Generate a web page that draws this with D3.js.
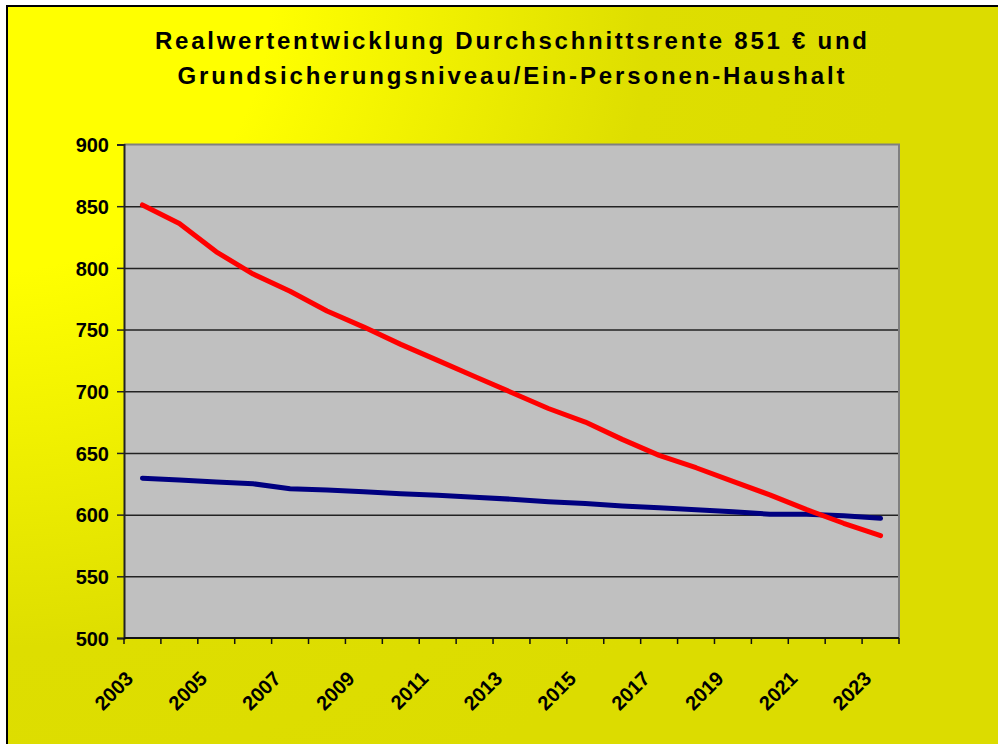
<!DOCTYPE html>
<html>
<head>
<meta charset="utf-8">
<script src="https://cdn.jsdelivr.net/npm/d3@7"></script>
<style>
  html, body { margin: 0; padding: 0; background: #ffffff; }
  svg { display: block; }
  text { font-family: "Liberation Sans", Arial, sans-serif; font-weight: bold; }
</style>
</head>
<body>
<svg id="chart" width="998" height="744"></svg>
<script>
// chart data
var years = ["2003","2004","2005","2006","2007","2008","2009","2010","2011","2012","2013",
             "2014","2015","2016","2017","2018","2019","2020","2021","2022","2023"];
var rente = [851, 836, 813, 795, 781, 765, 752, 738, 725, 712, 699,
             686, 675, 661, 648, 638, 627, 616, 604, 593, 583];
var grundsicherung = [629.5, 628, 626.5, 625, 621, 620, 618.5, 617, 615.7, 614, 612.5,
                      610.5, 609, 607, 605.5, 604, 602.3, 600.4, 600.4, 599, 597];
var yTicks = [500, 550, 600, 650, 700, 750, 800, 850, 900];
var xLabels = ["2003","2005","2007","2009","2011","2013","2015","2017","2019","2021","2023"];
var titleLines = ["Realwertentwicklung Durchschnittsrente 851 \u20ac und",
                  "Grundsicherungsniveau/Ein-Personen-Haushalt"];

var svg = d3.select("#chart");

// plot area (not named top/left: window.top is read-only)
var plotL = 124, plotR = 899, plotT = 144.5, plotB = 638;

// background: yellow, getting darker away from the top-left corner
var defs = svg.append("defs");
var grad = defs.append("radialGradient")
    .attr("id", "bg")
    .attr("gradientUnits", "userSpaceOnUse")
    .attr("cx", 0).attr("cy", 0).attr("r", 900);
grad.append("stop").attr("offset", 0.3).attr("stop-color", "#ffff00");
grad.append("stop").attr("offset", 0.72).attr("stop-color", "#dede00");
grad.append("stop").attr("offset", 1).attr("stop-color", "#dcdc00");

svg.append("rect")
    .attr("x", 7).attr("y", 6)
    .attr("width", 1000).attr("height", 750)
    .attr("fill", "url(#bg)")
    .attr("stroke", "#000").attr("stroke-width", 2);

// title
svg.append("g").selectAll("text")
    .data(titleLines)
    .enter()
    .append("text")
    .attr("x", 511)
    .attr("y", function(d, i) { return 49 + i * 35; })
    .attr("text-anchor", "middle")
    .attr("font-size", 24)
    .attr("textLength", function(d, i) { return i == 0 ? 712 : 667; })
    .attr("lengthAdjust", "spacing")
    .attr("fill", "#000")
    .text(function(d) { return d; });

// scales
var x = d3.scaleBand().domain(years).range([plotL, plotR]).padding(0);
var y = d3.scaleLinear().domain([500, 900]).range([plotB, plotT]);
var cx = function(d, i) { return x(years[i]) + x.bandwidth() / 2; };

svg.append("rect")
    .attr("x", plotL).attr("y", plotT)
    .attr("width", plotR - plotL).attr("height", plotB - plotT)
    .attr("fill", "#c0c0c0");

// grid lines
var grid = svg.append("g")
    .attr("transform", "translate(" + plotL + ",0)")
    .call(d3.axisLeft(y).tickValues(yTicks.slice(1, -1)).tickSize(-(plotR - plotL)).tickFormat(""));
grid.select(".domain").remove();
grid.selectAll("line").attr("stroke", "#222").attr("stroke-width", 1.5);

// plot border top / right
svg.append("path")
    .attr("d", "M" + plotL + "," + plotT + "H" + plotR + "V" + plotB)
    .attr("fill", "none")
    .attr("stroke", "#808080").attr("stroke-width", 2);

// y axis
var yAxis = svg.append("g")
    .attr("transform", "translate(" + plotL + ",0)")
    .call(d3.axisLeft(y).tickValues(yTicks).tickSize(7).tickPadding(8));
yAxis.select(".domain").attr("stroke", "#222").attr("stroke-width", 2);
yAxis.selectAll("line").attr("stroke", "#222").attr("stroke-width", 1.5);
yAxis.selectAll("text")
    .attr("font-size", 20)
    .attr("font-family", "Liberation Sans, Arial, sans-serif")
    .attr("font-weight", "bold")
    .attr("fill", "#000")
    .attr("dy", "0.36em");

// x axis: ticks between categories
var xAxis = svg.append("g");
xAxis.append("line")
    .attr("x1", plotL).attr("x2", plotR)
    .attr("y1", plotB).attr("y2", plotB)
    .attr("stroke", "#111").attr("stroke-width", 2);
xAxis.selectAll(".xtick")
    .data(years.concat(["end"]))
    .enter()
    .append("line")
    .attr("class", "xtick")
    .attr("x1", function(d) { return d == "end" ? plotR : x(d); })
    .attr("x2", function(d) { return d == "end" ? plotR : x(d); })
    .attr("y1", plotB).attr("y2", plotB + 6)
    .attr("stroke", "#111").attr("stroke-width", 1.5);
xAxis.selectAll(".xlabel")
    .data(xLabels)
    .enter()
    .append("text")
    .attr("class", "xlabel")
    .attr("text-anchor", "end")
    .attr("font-size", 20)
    .attr("transform", function(d) {
        return "translate(" + (x(d) + x.bandwidth() / 2 - 8) + "," + (plotB + 42) + ") rotate(-45)";
    })
    .text(function(d) { return d; });

// series lines
var line = d3.line()
    .x(cx)
    .y(function(d) { return y(d); });

svg.append("path")
    .datum(grundsicherung)
    .attr("d", line)
    .attr("fill", "none")
    .attr("stroke", "#000080")
    .attr("stroke-width", 5)
    .attr("stroke-linecap", "round")
    .attr("stroke-linejoin", "round");

svg.append("path")
    .datum(rente)
    .attr("d", line)
    .attr("fill", "none")
    .attr("stroke", "#ff0000")
    .attr("stroke-width", 5)
    .attr("stroke-linecap", "round")
    .attr("stroke-linejoin", "round");
</script>
</body>
</html>
